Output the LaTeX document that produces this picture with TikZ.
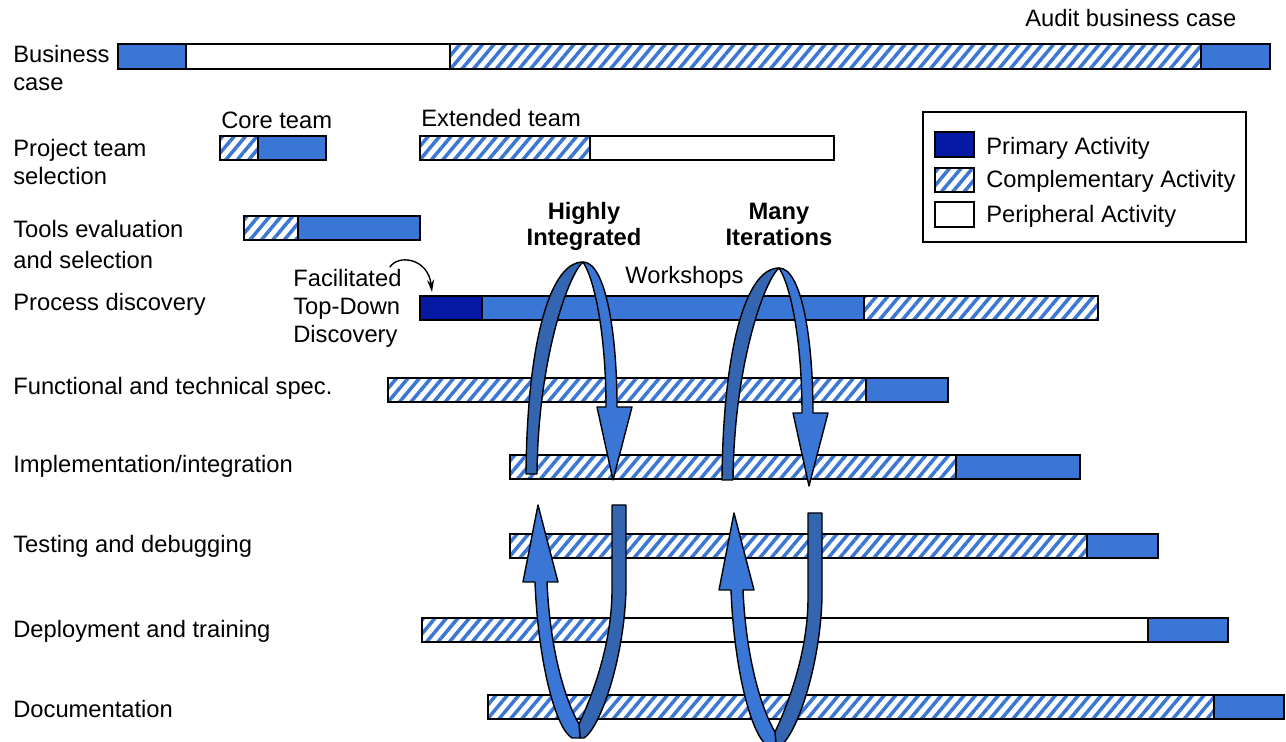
\documentclass[tikz,border=0pt]{standalone}
\usepackage{fontspec}
\setmainfont{Liberation Sans}
\usetikzlibrary{arrows.meta, patterns.meta, positioning, calc}
\definecolor{barblue}{RGB}{58,118,214}
\definecolor{primblue}{RGB}{5,25,165}
\definecolor{loopblue}{RGB}{52,101,176}

\tikzset{
  seg/.style={draw=black, line width=0.9pt},
  solidseg/.style={seg, fill=barblue},
  primseg/.style={seg, fill=primblue},
  whiteseg/.style={seg, fill=white},
  hatchseg/.style={seg, preaction={fill=white},
    pattern={Lines[angle=50, distance=1.75mm, line width=0.7mm]}, pattern color=barblue},
  lbl/.style={inner sep=0pt, anchor=base west, align=left, font=\fontsize{13.5}{16}\selectfont},
  boldlbl/.style={inner sep=0pt, anchor=base, align=center, font=\fontsize{13.5}{16}\selectfont\bfseries},
  loopdark/.style={fill=loopblue, draw=black, line width=0.8pt, line join=round},
  looplight/.style={fill=barblue, draw=black, line width=0.8pt, line join=round}
}

\begin{document}
\begin{tikzpicture}[x=0.02cm, y=-0.02cm]
    \useasboundingbox (0,0) rectangle (1286,742);
    \clip (0,0) rectangle (1286,742);

    % row labels (base = last line)
    \node[lbl] (lbiz)  at (13,91)  {Business\\case};
    \node[lbl] (lteam) at (13,185) {Project team\\selection};
    \node[lbl] (ltool) at (13,269) {Tools evaluation\\[2pt]and selection};
    \node[lbl] (lproc) at (13,311) {Process discovery};
    \node[lbl] (lspec) at (13,395) {Functional and technical spec.};
    \node[lbl] (limpl) at (13,473) {Implementation/integration};
    \node[lbl] (ltest) at (13,553) {Testing and debugging};
    \node[lbl] (ldepl) at (13,638) {Deployment and training};
    \node[lbl] (ldoc)  at (13,718) {Documentation};

    % Business case
    \draw[solidseg] (118,44) rectangle (186,69);
    \draw[whiteseg] (186,44) rectangle (450,69);
    \draw[hatchseg] (450,44) rectangle (1201,69);
    \draw[solidseg] (1201,44) rectangle (1270,69);
    \node[lbl] (audit) at (1025,27) {Audit business case};

    % Project team selection
    \draw[hatchseg] (220,136) rectangle (258,160);
    \draw[solidseg] (258,136) rectangle (326,160);
    \draw[hatchseg] (420,136) rectangle (590,160);
    \draw[whiteseg] (590,136) rectangle (834,160);
    \node[lbl] (core) at (221,129) {Core team};
    \node[lbl] (ext)  at (421,127) {Extended team};

    % Tools evaluation
    \draw[hatchseg] (244,216) rectangle (298,240);
    \draw[solidseg] (298,216) rectangle (420,240);

    % Process discovery
    \draw[primseg]  (420,296) rectangle (482,320);
    \draw[solidseg] (482,296) rectangle (864,320);
    \draw[hatchseg] (864,296) rectangle (1098,320);
    \coordinate (pdbar) at (420,296);
    \node[lbl] (facil) at (293,343) {Facilitated\\Top-Down\\Discovery};
    \node[lbl] (shops) at (625,284) {Workshops};

    % Functional and technical spec.
    \draw[hatchseg] (388,378) rectangle (866,402);
    \draw[solidseg] (866,378) rectangle (948,402);

    % Implementation/integration
    \draw[hatchseg] (510,455) rectangle (956,479);
    \draw[solidseg] (956,455) rectangle (1080,479);

    % Testing and debugging
    \draw[hatchseg] (510,534) rectangle (1087,558);
    \draw[solidseg] (1087,534) rectangle (1158,558);

    % Deployment and training
    \draw[hatchseg] (422,618) rectangle (620,642);
    \draw[whiteseg] (620,618) rectangle (1148,642);
    \draw[solidseg] (1148,618) rectangle (1228,642);

    % Documentation
    \draw[hatchseg] (488,695) rectangle (1214,719);
    \draw[solidseg] (1214,695) rectangle (1284,719);

    % small arc to the discovery bar
    \coordinate (arcstart) at ($(facil.north east)+(-12,-2)$);
    \draw[line width=0.8pt, -{Stealth[length=7pt, width=4pt, fill=barblue]}]
        (arcstart) .. controls (398,254) and (428,258) .. ($(pdbar)+(12,-4)$);

    % loops over the bars (upper ones)
    \foreach \dx/\dy in {0/0, 196/6} {
      \begin{scope}[shift={(\dx,\dy)}]
        \filldraw[loopdark] (526,474) .. controls (527,350) and (548,262) .. (583,262)
            .. controls (568,275) and (538,360) .. (537,474) -- cycle;
        \filldraw[looplight] (583,262) .. controls (605,262) and (617,330) .. (617,407)
            -- (632,407) -- (613,480) -- (597,407) -- (606,407)
            .. controls (606,340) and (596,282) .. (583,262) -- cycle;
      \end{scope}
    }

    % loops under (lower ones)
    \foreach \dx/\dy in {0/0, 196/8} {
      \begin{scope}[shift={(\dx,\dy)}]
        \filldraw[loopdark] (612,505) -- (626,505) -- (626,590)
            .. controls (624,660) and (600,728) .. (584,738) -- (580,738) -- (579,724)
            .. controls (595,690) and (612,640) .. (612,590) -- cycle;
        \filldraw[looplight] (535,582) .. controls (538,660) and (555,728) .. (572,738)
            -- (580,738) -- (579,724) .. controls (565,700) and (550,650) .. (547,582)
            -- (558,582) -- (538,505) -- (523,582) -- cycle;
      \end{scope}
    }

    \node[boldlbl] (hi)   at (584,246) {Highly\\[-1pt]Integrated};
    \node[boldlbl] (many) at (779,246) {Many\\[-1pt]Iterations};

    % legend
    \draw[line width=0.8pt] (923,112) rectangle (1246,242);
    \draw[primseg]  (935,132) rectangle (974,157);
    \draw[hatchseg] (935,168) rectangle (974,192);
    \draw[whiteseg] (935,202) rectangle (974,227);
    \node[lbl] (kprim) at (986,155) {Primary Activity};
    \node[lbl] (kcomp) at (986,188) {Complementary Activity};
    \node[lbl] (kperi) at (986,223) {Peripheral Activity};
\end{tikzpicture}
\end{document}
